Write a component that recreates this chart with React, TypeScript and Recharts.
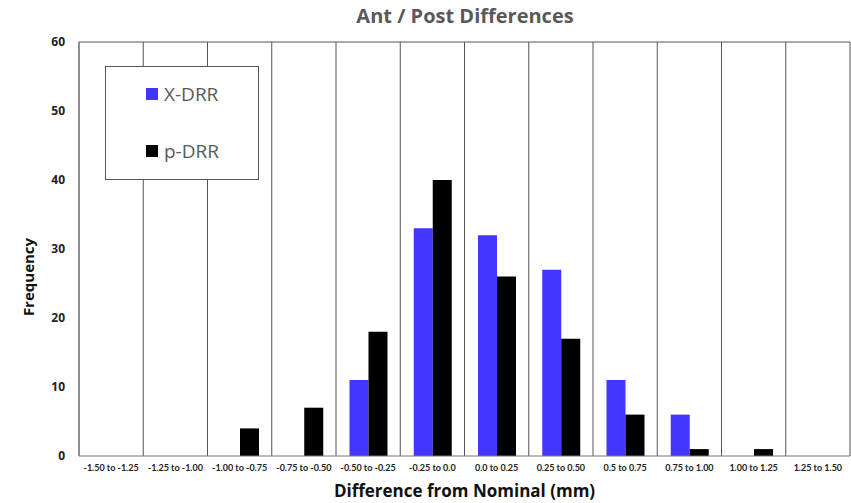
import { Bar, BarChart, CartesianGrid, Label, ReferenceLine, XAxis, YAxis } from "recharts";

const bins = [
  "-1.50 to -1.25",
  "-1.25 to -1.00",
  "-1.00 to -0.75",
  "-0.75 to -0.50",
  "-0.50 to -0.25",
  "-0.25 to 0.0",
  "0.0  to 0.25",
  "0.25 to 0.50",
  "0.5 to 0.75",
  "0.75 to 1.00",
  "1.00 to 1.25",
  "1.25 to 1.50",
];
const xDrr = [0, 0, 0, 0, 11, 33, 32, 27, 11, 6, 0, 0];
const pDrr = [0, 0, 4, 7, 18, 40, 26, 17, 6, 1, 1, 0];
const yTicks = [0, 10, 20, 30, 40, 50, 60];

const BLUE = "#4236ff";
const FONT = "'Open Sans', 'DejaVu Sans', sans-serif";

const data = bins.map((bin, i) => ({ bin, xDrr: xDrr[i], pDrr: pDrr[i] }));

// vertical separators sit on the bin edges, not the category centres
const binEdgeLines = ({ offset }: any) =>
  Array.from({ length: bins.length + 1 }, (_, i) => offset.left + (offset.width * i) / bins.length);

// y title sits a bit below the plot's middle in the original
const FrequencyLabel = ({ viewBox }: any) => {
  const x = viewBox.x + 28;
  const y = viewBox.y + viewBox.height / 2 + 28;
  return (
    <text
      x={x}
      y={y}
      transform={`rotate(-90 ${x} ${y})`}
      textAnchor="middle"
      dominantBaseline="central"
      style={{ fontSize: 15, fontWeight: 700, fill: "#111", fontFamily: FONT }}
    >
      Frequency
    </text>
  );
};

function LegendBox() {
  const items = [
    { name: "X-DRR", color: BLUE },
    { name: "p-DRR", color: "#000" },
  ];
  return (
    <div
      style={{
        position: "absolute",
        left: 105,
        top: 66,
        width: 154,
        height: 114,
        border: "1px solid #555",
        background: "#fff",
        boxSizing: "border-box",
        fontFamily: FONT,
        fontSize: 19,
        color: "#595959",
      }}
    >
      {items.map((it, i) => (
        <div
          key={it.name}
          style={{
            position: "absolute",
            left: 40,
            top: 14 + i * 57,
            display: "flex",
            alignItems: "center",
            gap: 6,
            lineHeight: "26px",
          }}
        >
          <span style={{ width: 12, height: 12, background: it.color, display: "inline-block" }} />
          <span>{it.name}</span>
        </div>
      ))}
    </div>
  );
}

export default function App() {
  return (
    <div style={{ position: "fixed", left: 0, top: 0, width: 851, height: 503, background: "#fff" }}>
      <div
        style={{
          position: "absolute",
          left: 79,
          width: 772,
          top: 2,
          textAlign: "center",
          fontFamily: FONT,
          fontWeight: 700,
          fontSize: 20,
          color: "#595959",
        }}
      >
        Ant / Post Differences
      </div>
      <BarChart
        width={851}
        height={503}
        data={data}
        margin={{ top: 42, right: 1, left: 0, bottom: 0 }}
        barCategoryGap="21%"
        barGap={0}
        style={{ fontFamily: FONT }}
      >
        <CartesianGrid horizontal={false} stroke="#555" verticalCoordinatesGenerator={binEdgeLines} />
        <XAxis
          dataKey="bin"
          height={47}
          interval={0}
          tickLine={false}
          axisLine={{ stroke: "#777" }}
          tick={{ fontSize: 9, fontWeight: 700, fill: "#222", fontFamily: "Lato, sans-serif" }}
          tickMargin={3}
        >
          <Label
            value="Difference from Nominal (mm)"
            position="insideBottom"
            offset={6}
            style={{ fontSize: 17, fontWeight: 700, fill: "#111" }}
          />
        </XAxis>
        <YAxis
          width={79}
          domain={[0, 60]}
          ticks={yTicks}
          tickLine={false}
          axisLine={{ stroke: "#777" }}
          tick={{ fontSize: 12, fontWeight: 700, fill: "#222" }}
          tickMargin={8}
        >
          <Label content={FrequencyLabel} />
        </YAxis>
        <ReferenceLine y={60} stroke="#555" />
        <Bar dataKey="xDrr" name="X-DRR" fill={BLUE} isAnimationActive={false} />
        <Bar dataKey="pDrr" name="p-DRR" fill="#000" isAnimationActive={false} />
      </BarChart>
      <LegendBox />
    </div>
  );
}
